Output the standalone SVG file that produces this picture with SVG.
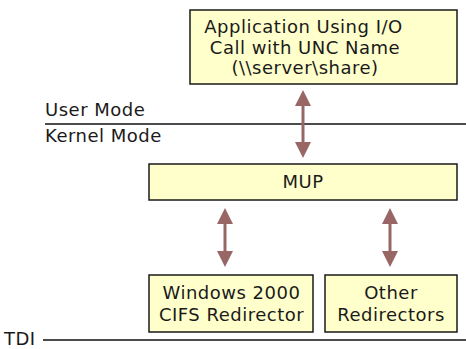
<svg xmlns="http://www.w3.org/2000/svg" width="466" height="349" viewBox="0 0 466 349">
  <defs>
    <style>
      .box { fill: #FFFFCC; stroke: #1a1a1a; stroke-width: 1.5; }
      .label { font-family: "DejaVu Sans", Verdana, sans-serif; font-size: 18px; letter-spacing: 0.5px; fill: #1a1a1a; }
      .mid { text-anchor: middle; }
      .rule { stroke: #111; stroke-width: 1.5; fill: none; }
      .flow { stroke: #996666; stroke-width: 3; fill: none; marker-start: url(#head); marker-end: url(#head); }
    </style>
    <!-- arrowhead: base sits on the line end, tip reaches 16px beyond -->
    <marker id="head" viewBox="0 0 16 16" markerWidth="16" markerHeight="16" refX="0" refY="8" orient="auto-start-reverse" markerUnits="userSpaceOnUse">
      <path d="M0,0 L16,8 L0,16 z" fill="#996666"/>
    </marker>
  </defs>

  <rect width="466" height="349" fill="#FFFFFF"/>

  <!-- mode boundary lines and their labels -->
  <g id="boundaries">
    <line class="rule" x1="45" y1="124" x2="466" y2="124"/>
    <text class="label" x="45" y="116">User Mode</text>
    <text class="label" x="45" y="142">Kernel Mode</text>
    <line class="rule" x1="43" y1="340" x2="466" y2="340"/>
    <text class="label" x="4" y="345">TDI</text>
  </g>

  <g id="app">
    <rect class="box" x="190" y="10" width="267" height="74"/>
    <text class="label mid" x="303.5" y="33">Application Using I/O</text>
    <text class="label mid" x="305" y="53.5">Call with UNC Name</text>
    <text class="label mid" x="305" y="74">(\\server\share)</text>
  </g>

  <g id="mup">
    <rect class="box" x="149" y="164" width="308" height="36"/>
    <text class="label mid" x="303" y="188">MUP</text>
  </g>

  <g id="cifs">
    <rect class="box" x="149" y="275" width="164" height="57"/>
    <text class="label mid" x="231.5" y="299">Windows 2000</text>
    <text class="label mid" x="231.5" y="321">CIFS Redirector</text>
  </g>

  <g id="other">
    <rect class="box" x="325" y="275" width="132" height="57"/>
    <text class="label mid" x="391" y="299">Other</text>
    <text class="label mid" x="391" y="321">Redirectors</text>
  </g>

  <g id="connectors">
    <line class="flow" x1="303" y1="106" x2="303" y2="142"/>
    <line class="flow" x1="225" y1="224" x2="225" y2="251"/>
    <line class="flow" x1="390" y1="224" x2="390" y2="251"/>
  </g>
</svg>
